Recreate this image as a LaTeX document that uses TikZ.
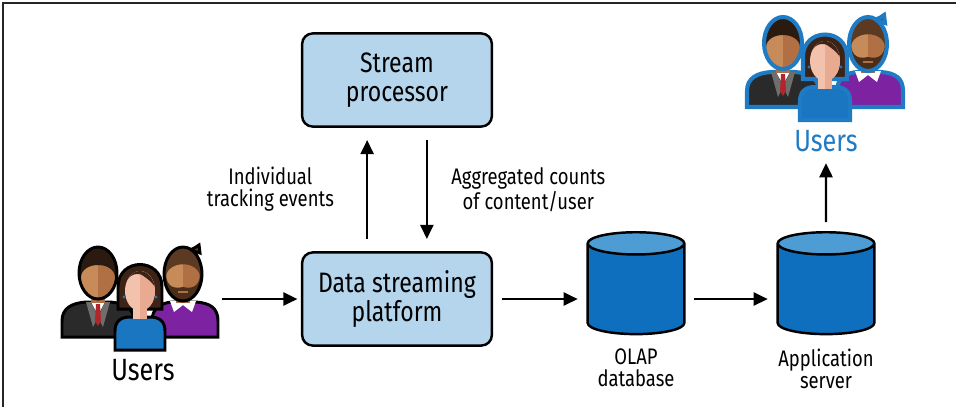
\documentclass[tikz,border=0pt]{standalone}
\usepackage{fontspec}
\setmainfont{Fira Sans}[FakeStretch=0.82]
\usetikzlibrary{positioning}
\usetikzlibrary{shapes.geometric}
\usetikzlibrary{arrows.meta}

\definecolor{boxblue}{HTML}{B5D5EC}
\definecolor{dbblue}{HTML}{0E6FBE}
\definecolor{dbtop}{HTML}{4E9CD4}
\definecolor{userblue}{HTML}{1F7BC4}
\definecolor{suit}{HTML}{2A2A2A}
\definecolor{lapel}{HTML}{6E6E6E}
\definecolor{tie}{HTML}{B0262B}
\definecolor{skinA}{HTML}{C68B59}
\definecolor{skinB}{HTML}{B07044}
\definecolor{skinW}{HTML}{F3C2AD}
\definecolor{skinWB}{HTML}{E9AA92}
\definecolor{hairA}{HTML}{2B1A10}
\definecolor{hairC}{HTML}{5B3A21}
\definecolor{hairW}{HTML}{3D2316}
\definecolor{beard}{HTML}{4A2E1A}
\definecolor{blouse}{HTML}{1B76C1}
\definecolor{purple}{HTML}{7D22A1}

% three people; #1 shift, #2 outline colour, #3 outline width
\newcommand{\usergroup}[3]{%
\begin{scope}[shift={#1}, line width=#3, draw=#2]
	% man in suit
	\filldraw[fill=suit] (2,92) -- (2,76) .. controls (2,63) and (12,58) .. (26,57) -- (50,57) .. controls (64,58) and (74,63) .. (74,76) -- (74,92) -- cycle;
	\fill[white] (31,57) -- (45,57) -- (38,70) -- cycle;
	\fill[lapel] (26,57) -- (31,57) -- (38,72) -- (33,82) -- cycle;
	\fill[lapel] (50,57) -- (45,57) -- (38,72) -- (43,82) -- cycle;
	\fill[tie] (36,59) -- (40,59) -- (41,76) -- (38,81) -- (35,76) -- cycle;
	\fill[skinB] (31,45) rectangle (45,58);
	\fill[skinA] (38,28) ellipse [x radius=19, y radius=26];
	\begin{scope}
		\clip (38,28) ellipse [x radius=19, y radius=26];
		\fill[skinB] (38,0) rectangle (60,60);
		\fill[hairA] (15,32) -- (21,32) .. controls (22,16) and (54,16) .. (55,32) -- (61,32) -- (61,0) -- (15,0) -- cycle;
	\end{scope}
	\draw (38,28) ellipse [x radius=19, y radius=26];
	% man with beard
	\filldraw[fill=purple] (92,92) -- (92,76) .. controls (92,63) and (101,58) .. (112,57) -- (136,57) .. controls (150,58) and (158,63) .. (158,76) -- (158,92) -- cycle;
	\fill[white] (110,56) -- (136,56) -- (132,67) -- (123,60) -- (114,67) -- cycle;
	\fill[skinB] (116,45) rectangle (130,58);
	\filldraw[fill=hairC] (130,5) .. controls (134,3) and (137,2) .. (139,0) -- (140,8) -- cycle;
	\fill[skinA] (123,29) ellipse [x radius=19, y radius=27];
	\begin{scope}
		\clip (123,29) ellipse [x radius=19, y radius=27];
		\fill[skinB] (123,0) rectangle (146,60);
		\fill[hairC] (100,32) -- (106,32) .. controls (107,15) and (139,15) .. (140,32) -- (146,32) -- (146,0) -- (100,0) -- cycle;
		\fill[beard] (100,30) -- (106,30) .. controls (107,42) and (114,44) .. (123,42) .. controls (132,44) and (139,42) .. (140,30) -- (146,30) -- (146,60) -- (100,60) -- cycle;
		\fill[skinB] (118,46) rectangle (128,48);
	\end{scope}
	\draw (123,29) ellipse [x radius=19, y radius=27];
	% woman in front
	\filldraw[fill=hairW] (58,64) -- (58,42) .. controls (58,12) and (102,12) .. (102,42) -- (102,64) -- cycle;
	\filldraw[fill=blouse] (55,105) -- (55,86) .. controls (55,76) and (61,72) .. (70,72) -- (90,72) .. controls (99,72) and (105,76) .. (105,86) -- (105,105) -- cycle;
	\fill[skinWB] (73,56) rectangle (87,74);
	\fill[skinW] (73,56) rectangle (80,74);
	\fill[skinW] (80,46) ellipse [x radius=15, y radius=20];
	\begin{scope}
		\clip (80,46) ellipse [x radius=15, y radius=20];
		\fill[skinWB] (80,20) rectangle (96,70);
		\fill[hairW] (64,44) .. controls (66,30) and (76,27) .. (82,30) .. controls (86,33) and (92,36) .. (96,44) -- (96,20) -- (64,20) -- cycle;
	\end{scope}
	\fill[blouse] (64,52) circle (1.6) (96,52) circle (1.6);
\end{scope}}

\begin{document}
\begin{tikzpicture}[x=0.02cm,y=-0.02cm,
	block/.style={draw,line width=1.4pt,rounded corners=6pt,fill=boxblue,minimum width=108pt,minimum height=53pt,align=center,font=\fontsize{16}{16.5}\selectfont},
	db/.style={cylinder,shape border rotate=90,draw,line width=1.4pt,aspect=1.9,cylinder uses custom fill,cylinder body fill=dbblue,cylinder end fill=dbtop,minimum width=55pt,minimum height=58pt},
	lbl/.style={align=center,font=\fontsize{12.8}{12.5}\selectfont},
	flow/.style={line width=1.2pt,-{Triangle[length=8pt,width=7.5pt]}}]
	\useasboundingbox (0,0) rectangle (956,407);
	\draw[line width=1.1pt,black!85] (3,407) -- (3,3) -- (956,3);

	\draw (397,80) node[block] (sp) {Stream\\processor}
	(397,299) node[block] (dsp) {Data streaming\\platform};
	\draw (636,292) node[db] (olap) {} (826,292) node[db] (app) {};
	\node[lbl,below=4pt of olap] (olapl) {OLAP\\database};
	\node[lbl,below=4pt of app] (appl) {Application\\server};

	\usergroup{(60,245)}{black}{1.7pt}
	\usergroup{(745,15)}{userblue}{2.3pt}
	\node[font=\fontsize{17.5}{18}\selectfont] (usrL) at (143,370) {Users};
	\node[font=\fontsize{17.5}{18}\selectfont,text=userblue] (usrR) at (826,141) {Users};
	\coordinate (grpL) at (222,299);

	\draw[flow,shorten <=7pt,shorten >=7pt] ([xshift=-17pt]dsp.north) -- ([xshift=-17pt]sp.south)
node[midway,left=15pt,lbl]{Individual\\tracking events};
	\draw[flow,shorten <=7pt,shorten >=7pt] ([xshift=17pt]sp.south) -- ([xshift=17pt]dsp.north)
node[midway,right=10pt,lbl]{Aggregated counts\\of content/user};
	\draw[flow,shorten >=2pt] (grpL) -- (dsp.west);
	\draw[flow,shorten <=5pt,shorten >=5pt] (dsp.east) -- (dsp.east -| olap.west);
	\draw[flow,shorten <=5pt,shorten >=5pt] (dsp.east -| olap.east) -- (dsp.east -| app.west);
	\draw[flow,shorten <=5pt,shorten >=3pt] (app.north) -- (usrR.south);
\end{tikzpicture}
\end{document}
